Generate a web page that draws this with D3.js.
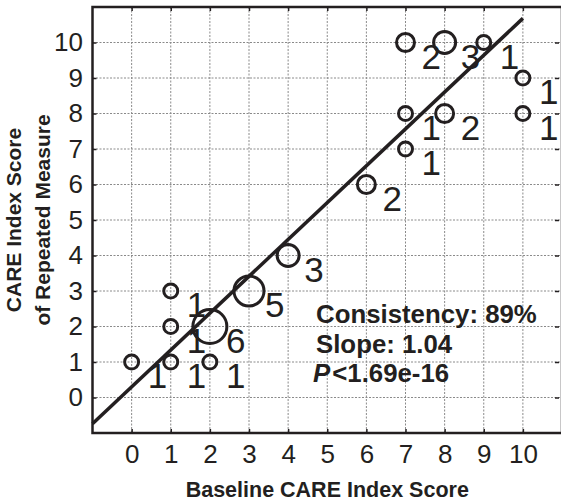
<!DOCTYPE html>
<html>
<head>
<meta charset="utf-8">
<script src="https://cdn.jsdelivr.net/npm/d3@7"></script>
<style>
  body { margin: 0; background: #fff; }
  text { font-family: "Liberation Sans", Arial, Helvetica, sans-serif; fill: #231f20; }
</style>
</head>
<body>
<div id="content"></div>
<script>
// baseline score, repeated score, and how many subjects sit at each point
var baseline = [0, 1, 2, 1, 1, 2, 3, 4, 6, 7, 7, 8, 7, 8, 9, 10, 10];
var repeated = [1, 1, 1, 2, 3, 2, 3, 4, 6, 7, 8, 8, 10, 10, 10, 9, 8];
var counts   = [1, 1, 1, 1, 1, 6, 5, 3, 2, 1, 1, 2, 2, 3, 1, 1, 1];

var tickValues = [0, 1, 2, 3, 4, 5, 6, 7, 8, 9, 10];
var fitX = [-1, 10];
var fitY = [-0.74, 10.68];
var statLines = ["Consistency: 89%", "Slope: 1.04", "<1.69e-16"];

(function(d3) {
    var width = 561, height = 504;
    var margin = {top: 7, right: -1, bottom: 71, left: 92.5};
    var ink = "#231f20";

    var svg = d3.select("#content").append("svg")
        .attr("width", width).attr("height", height)
        .attr("viewBox", [0, 0, width, height]);

    var x = d3.scaleLinear().domain([-1, 11]).range([margin.left, width - margin.right]);
    var y = d3.scaleLinear().domain([-1, 11]).range([height - margin.bottom, margin.top]);
    var r = d3.scaleLinear().domain([1, 6]).range([7, 17]);

    // dotted grid
    var grid = svg.append("g").attr("stroke", "#8a8a8a").attr("stroke-width", 1)
        .attr("stroke-dasharray", "2,1.5");
    grid.selectAll(".gx").data(tickValues).enter().append("line")
        .attr("x1", function(d) { return x(d); }).attr("x2", function(d) { return x(d); })
        .attr("y1", y(11)).attr("y2", y(-1));
    grid.selectAll(".gy").data(tickValues).enter().append("line")
        .attr("y1", function(d) { return y(d); }).attr("y2", function(d) { return y(d); })
        .attr("x1", x(-1)).attr("x2", x(11));

    function styleAxis(g, fs) {
        g.select(".domain").remove();
        g.selectAll(".tick line").attr("stroke", ink).attr("stroke-width", 1.5);
        g.selectAll(".tick text").attr("font-size", fs).style("fill", ink);
    }

    svg.append("g")
        .attr("transform", "translate(0," + y(-1) + ")")
        .call(d3.axisBottom(x).tickValues(tickValues).tickSizeInner(-4).tickSizeOuter(0).tickPadding(11.5))
        .call(styleAxis, 26);
    svg.append("g")
        .attr("transform", "translate(" + x(-1) + ",0)")
        .call(d3.axisLeft(y).tickValues(tickValues).tickSizeInner(-4).tickSizeOuter(0).tickPadding(9.5))
        .call(styleAxis, 26);
    svg.append("g")
        .attr("transform", "translate(0," + y(11) + ")")
        .call(d3.axisTop(x).tickValues(tickValues).tickSizeInner(-4).tickSizeOuter(0).tickFormat(""))
        .call(styleAxis, 0);
    svg.append("g")
        .attr("transform", "translate(" + (x(11) - 3) + ",0)")
        .call(d3.axisRight(y).tickValues(tickValues).tickSizeInner(-4).tickSizeOuter(0).tickFormat(""))
        .call(styleAxis, 0);

    // frame
    svg.append("rect")
        .attr("x", x(-1)).attr("y", y(11))
        .attr("width", x(11) - x(-1)).attr("height", y(-1) - y(11))
        .attr("fill", "none").attr("stroke", ink).attr("stroke-width", 2.5);

    // fitted line
    svg.append("path")
        .datum(d3.zip(fitX, fitY))
        .attr("fill", "none").attr("stroke", ink).attr("stroke-width", 3.5)
        .attr("d", d3.line().x(function(d) { return x(d[0]); }).y(function(d) { return y(d[1]); }));

    var pts = d3.range(baseline.length).map(function(i) {
        return {bx: baseline[i], ry: repeated[i], n: counts[i]};
    });

    svg.append("g").selectAll("circle").data(pts).enter().append("circle")
        .attr("cx", function(d) { return x(d.bx); })
        .attr("cy", function(d) { return y(d.ry); })
        .attr("r", function(d) { return r(d.n); })
        .attr("fill", "none").attr("stroke", ink).attr("stroke-width", 3);

    svg.append("g").selectAll("text").data(pts).enter().append("text")
        .attr("x", function(d) { return x(d.bx) + 16; })
        .attr("y", function(d) { return y(d.ry) + 26; })
        .attr("font-size", 35)
        .text(function(d) { return d.n; });

    // stats box
    var stats = svg.append("g").attr("font-size", 25.8).attr("font-weight", "bold");
    stats.append("text").attr("x", 316).attr("y", 323).text(statLines[0]);
    stats.append("text").attr("x", 316).attr("y", 352.5).text(statLines[1]);
    var pl = stats.append("text").attr("x", 313).attr("y", 382);
    pl.append("tspan").attr("font-style", "italic").text("P");
    pl.append("tspan").attr("dx", 2).text(statLines[2]);

    // axis titles
    svg.append("text")
        .attr("x", (x(-1) + x(11)) / 2).attr("y", 497)
        .attr("text-anchor", "middle").attr("font-size", 21.5).attr("font-weight", "bold")
        .text("Baseline CARE Index Score");

    var yt = svg.append("text")
        .attr("transform", "translate(0," + (y(-1) + y(11)) / 2 + ") rotate(-90)")
        .attr("text-anchor", "middle").attr("font-size", 21).attr("font-weight", "bold");
    yt.append("tspan").attr("x", 0).attr("y", 21).text("CARE Index Score");
    yt.append("tspan").attr("x", 0).attr("y", 50).text("of Repeated Measure");
})(d3);
</script>
</body>
</html>
